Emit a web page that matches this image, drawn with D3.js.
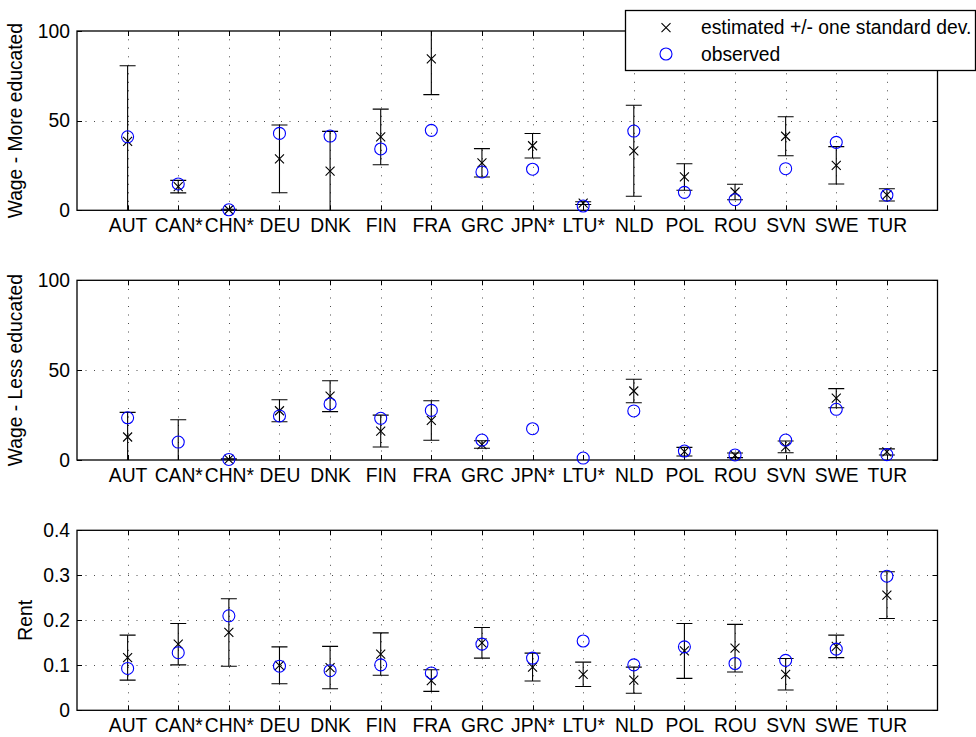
<!DOCTYPE html>
<html>
<head>
<meta charset="utf-8">
<script src="https://cdn.jsdelivr.net/npm/d3@7/dist/d3.min.js"></script>
<style>
  html, body { margin: 0; padding: 0; background: #fff; }
  svg { display: block; font-family: "Liberation Sans", Arial, Helvetica, sans-serif; }
</style>
</head>
<body>
<svg id="chart" width="976" height="737"></svg>
<script>
// ---------- data ----------
const countries = ["AUT","CAN*","CHN*","DEU","DNK","FIN","FRA","GRC","JPN*","LTU*","NLD","POL","ROU","SVN","SWE","TUR"];

const wageHighEst = [38.5, 13.2, 0.3, 28.7, 21.9, 40.9, 84.5, 26.5, 36.0, 4.0, 33.2, 18.6, 10.2, 41.3, 25.1, 8.6];
const wageHighStd = [42.1, 3.5, 0.3, 18.9, 22.1, 15.5, 20.0, 7.9, 6.8, 0.8, 25.4, 7.4, 4.3, 10.9, 10.4, 3.4];
const wageHighObs = [41.0, 14.7, 0.3, 42.9, 41.4, 34.2, 44.6, 21.4, 22.9, 2.4, 44.2, 10.0, 5.9, 23.2, 37.9, 8.4];

const wageLowEst = [12.8, -6.0, 0.3, 27.4, 35.5, 16.1, 22.0, 8.6, null, null, 38.4, 4.6, 2.6, 7.3, 34.4, 4.5];
const wageLowStd = [13.7, 28.4, 0.3, 6.1, 8.6, 8.9, 11.0, 2.1, null, null, 6.5, 2.4, 1.3, 3.3, 5.3, 1.7];
const wageLowObs = [23.5, 10.0, 0.3, 24.5, 31.2, 23.2, 27.6, 11.1, 17.4, 1.1, 27.3, 5.0, 2.8, 11.1, 28.2, 3.0];

const rentEst = [0.117, 0.147, 0.173, 0.100, 0.095, 0.125, 0.066, 0.150, 0.096, 0.080, 0.067, 0.132, 0.138, 0.080, 0.142, 0.256];
const rentStd = [0.050, 0.046, 0.075, 0.041, 0.047, 0.047, 0.024, 0.034, 0.031, 0.027, 0.029, 0.061, 0.053, 0.035, 0.025, 0.052];
const rentObs = [0.093, 0.128, 0.210, 0.098, 0.088, 0.101, 0.083, 0.147, 0.116, 0.154, 0.101, 0.141, 0.104, 0.111, 0.136, 0.298];

const wageTicks = [0, 50, 100];
const rentTicks = [0, 0.1, 0.2, 0.3, 0.4];
const legendLabels = ["estimated +/- one standard dev.", "observed"];

const panels = [
  { label: "Wage - More educated", est: wageHighEst, std: wageHighStd, obs: wageHighObs, ticks: wageTicks, domain: [0, 100], top: 31, bottom: 210.3, labelX: 15 },
  { label: "Wage - Less educated", est: wageLowEst, std: wageLowStd, obs: wageLowObs, ticks: wageTicks, domain: [0, 100], top: 280.3, bottom: 460, labelX: 15 },
  { label: "Rent", est: rentEst, std: rentStd, obs: rentObs, ticks: rentTicks, domain: [0, 0.4], top: 530.3, bottom: 710.3, labelX: 25 }
];

// ---------- drawing ----------
const svg = d3.select("#chart");
const left = 77, right = 937.5;
const fontSize = 19.3;
const x = d3.scaleLinear().domain([0, countries.length + 1]).range([left, right]);

panels.forEach((p, pi) => {
  const y = d3.scaleLinear().domain(p.domain).range([p.bottom, p.top]);
  const g = svg.append("g");
  const clipId = "clip" + pi;
  svg.append("clipPath").attr("id", clipId)
    .append("rect").attr("x", left).attr("y", p.top).attr("width", right - left).attr("height", p.bottom - p.top);

  // grid
  const grid = g.append("g").attr("stroke", "#000").attr("stroke-width", 1).attr("stroke-dasharray", "1,7.5").attr("opacity", 0.7);
  countries.forEach((c, i) => {
    grid.append("line").attr("x1", Math.round(x(i + 1)) + 0.5).attr("x2", Math.round(x(i + 1)) + 0.5)
      .attr("y1", p.bottom).attr("y2", p.top);
  });
  p.ticks.slice(1, -1).forEach(t => {
    grid.append("line").attr("y1", Math.round(y(t)) + 0.5).attr("y2", Math.round(y(t)) + 0.5)
      .attr("x1", left).attr("x2", right);
  });

  // axes (left with tick labels, bottom with category labels)
  const yAxis = d3.axisLeft(y).tickValues(p.ticks).tickSize(0).tickPadding(7)
    .tickFormat(d => p.domain[1] < 1 ? (d === 0 ? "0" : d3.format(".1f")(d)) : d3.format("d")(d));
  const ya = g.append("g").attr("transform", `translate(${left},0)`).call(yAxis);
  ya.select(".domain").remove();
  ya.selectAll("text").attr("font-size", fontSize).attr("font-family", "Liberation Sans, Arial, sans-serif").attr("fill", "#000");

  const xAxis = d3.axisBottom(x).tickValues(d3.range(1, countries.length + 1)).tickSize(0).tickPadding(8)
    .tickFormat(d => countries[d - 1]);
  const xa = g.append("g").attr("transform", `translate(0,${p.bottom})`).call(xAxis);
  xa.select(".domain").remove();
  xa.selectAll("text").attr("font-size", fontSize).attr("font-family", "Liberation Sans, Arial, sans-serif").attr("fill", "#000");

  // inner tick marks
  const tk = g.append("g").attr("stroke", "#000").attr("stroke-width", 1);
  p.ticks.forEach(t => {
    const yy = Math.round(y(t)) + 0.5;
    tk.append("line").attr("x1", left).attr("x2", left + 5).attr("y1", yy).attr("y2", yy);
    tk.append("line").attr("x1", right - 5).attr("x2", right).attr("y1", yy).attr("y2", yy);
  });
  countries.forEach((c, i) => {
    const xx = Math.round(x(i + 1)) + 0.5;
    tk.append("line").attr("x1", xx).attr("x2", xx).attr("y1", p.bottom).attr("y2", p.bottom - 5);
    tk.append("line").attr("x1", xx).attr("x2", xx).attr("y1", p.top).attr("y2", p.top + 5);
  });

  // box
  g.append("rect").attr("x", left).attr("y", p.top).attr("width", right - left).attr("height", p.bottom - p.top)
    .attr("fill", "none").attr("stroke", "#000").attr("stroke-width", 1.3);

  // y label
  g.append("text")
    .attr("transform", `translate(${p.labelX},${(p.top + p.bottom) / 2}) rotate(-90)`)
    .attr("text-anchor", "middle").attr("dominant-baseline", "central")
    .attr("font-size", fontSize).attr("fill", "#000").text(p.label);

  // error bars (clipped)
  const eb = g.append("g").attr("clip-path", `url(#${clipId})`).attr("stroke", "#000").attr("stroke-width", 1.1);
  countries.forEach((c, i) => {
    const e = p.est[i], s = p.std[i];
    if (e === null || s === null) return;
    const xx = x(i + 1);
    eb.append("line").attr("x1", xx).attr("x2", xx).attr("y1", y(e - s)).attr("y2", y(e + s));
    eb.append("line").attr("x1", xx - 8).attr("x2", xx + 8).attr("y1", y(e - s)).attr("y2", y(e - s));
    eb.append("line").attr("x1", xx - 8).attr("x2", xx + 8).attr("y1", y(e + s)).attr("y2", y(e + s));
  });

  // estimated x markers (only when inside axes)
  const mk = g.append("g").attr("stroke", "#000").attr("stroke-width", 1.1);
  countries.forEach((c, i) => {
    const e = p.est[i];
    if (e === null || e < p.domain[0] || e > p.domain[1]) return;
    const xx = x(i + 1), yy = y(e), h = 4.5;
    mk.append("path").attr("d", `M${xx - h},${yy - h}L${xx + h},${yy + h}M${xx - h},${yy + h}L${xx + h},${yy - h}`);
  });

  // observed circles
  g.append("g").selectAll("circle").data(p.obs).join("circle")
    .attr("cx", (d, i) => x(i + 1)).attr("cy", d => y(d)).attr("r", 6)
    .attr("fill", "none").attr("stroke", "#0000ff").attr("stroke-width", 1.1);
});

// ---------- legend ----------
const lg = svg.append("g");
lg.append("rect").attr("x", 625.5).attr("y", 10.5).attr("width", 350).attr("height", 60)
  .attr("fill", "#fff").attr("stroke", "#000").attr("stroke-width", 1.3);
const lx = 666, ly1 = 27.7, ly2 = 54;
lg.append("path").attr("d", `M${lx - 4.5},${ly1 - 4.5}L${lx + 4.5},${ly1 + 4.5}M${lx - 4.5},${ly1 + 4.5}L${lx + 4.5},${ly1 - 4.5}`)
  .attr("stroke", "#000").attr("stroke-width", 1.1);
lg.append("circle").attr("cx", lx).attr("cy", ly2).attr("r", 6).attr("fill", "none").attr("stroke", "#0000ff").attr("stroke-width", 1.1);
lg.selectAll("text").data(legendLabels).join("text")
  .attr("x", 701).attr("y", (d, i) => i === 0 ? ly1 : ly2)
  .attr("dominant-baseline", "central").attr("font-size", fontSize).attr("fill", "#000")
  .text(d => d);
</script>
</body>
</html>
